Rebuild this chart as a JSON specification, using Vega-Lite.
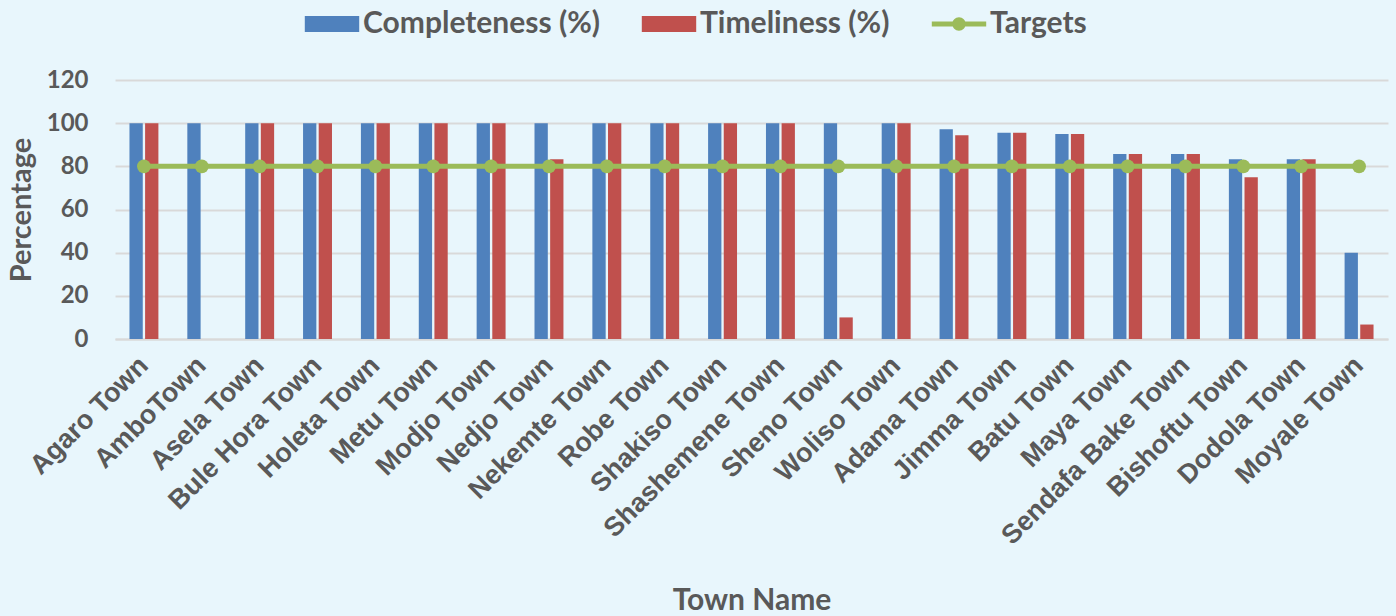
{
  "$schema": "https://vega.github.io/schema/vega-lite/v6.json",
  "width": 1273,
  "height": 259,
  "autosize": "none",
  "padding": {"left": 115, "top": 80, "right": 8, "bottom": 277},
  "background": "#E8F6FC",
  "config": {
    "view": {"stroke": null},
    "font": "Lato",
    "axis": {"labelColor": "#595959", "titleColor": "#595959", "labelFontWeight": "bold", "titleFontWeight": "bold", "gridColor": "#D9D9D9", "gridWidth": 2, "domainColor": "#D9D9D9", "domainWidth": 2, "ticks": false}
  },
  "data": {"values": [
    {"town": "Agaro Town", "Completeness (%)": 100, "Timeliness (%)": 100, "target": 80},
    {"town": "AmboTown", "Completeness (%)": 100, "Timeliness (%)": 0, "target": 80},
    {"town": "Asela Town", "Completeness (%)": 100, "Timeliness (%)": 100, "target": 80},
    {"town": "Bule Hora Town", "Completeness (%)": 100, "Timeliness (%)": 100, "target": 80},
    {"town": "Holeta Town", "Completeness (%)": 100, "Timeliness (%)": 100, "target": 80},
    {"town": "Metu Town", "Completeness (%)": 100, "Timeliness (%)": 100, "target": 80},
    {"town": "Modjo Town", "Completeness (%)": 100, "Timeliness (%)": 100, "target": 80},
    {"town": "Nedjo Town", "Completeness (%)": 100, "Timeliness (%)": 83.3, "target": 80},
    {"town": "Nekemte Town", "Completeness (%)": 100, "Timeliness (%)": 100, "target": 80},
    {"town": "Robe Town", "Completeness (%)": 100, "Timeliness (%)": 100, "target": 80},
    {"town": "Shakiso Town", "Completeness (%)": 100, "Timeliness (%)": 100, "target": 80},
    {"town": "Shashemene Town", "Completeness (%)": 100, "Timeliness (%)": 100, "target": 80},
    {"town": "Sheno Town", "Completeness (%)": 100, "Timeliness (%)": 10, "target": 80},
    {"town": "Woliso Town", "Completeness (%)": 100, "Timeliness (%)": 100, "target": 80},
    {"town": "Adama Town", "Completeness (%)": 97.2, "Timeliness (%)": 94.4, "target": 80},
    {"town": "Jimma Town", "Completeness (%)": 95.6, "Timeliness (%)": 95.6, "target": 80},
    {"town": "Batu Town", "Completeness (%)": 95, "Timeliness (%)": 95, "target": 80},
    {"town": "Maya Town", "Completeness (%)": 85.7, "Timeliness (%)": 85.7, "target": 80},
    {"town": "Sendafa Bake Town", "Completeness (%)": 85.7, "Timeliness (%)": 85.7, "target": 80},
    {"town": "Bishoftu Town", "Completeness (%)": 83.3, "Timeliness (%)": 75, "target": 80},
    {"town": "Dodola Town", "Completeness (%)": 83.3, "Timeliness (%)": 83.3, "target": 80},
    {"town": "Moyale Town", "Completeness (%)": 40, "Timeliness (%)": 6.7, "target": 80}
  ]},
  "encoding": {
    "x": {
      "field": "town", "type": "nominal", "sort": null,
      "scale": {"paddingInner": 0.5, "paddingOuter": 0.25},
      "axis": {"title": "Town Name", "labelAngle": -45, "labelAlign": "right", "labelBaseline": "middle", "labelFont": "Liberation Sans", "labelFontSize": 27, "labelPadding": 22, "titleFontSize": 30, "titleY": 261, "titleBaseline": "middle", "grid": false, "labelLimit": 400}
    }
  },
  "layer": [
    {
      "transform": [{"fold": ["Completeness (%)", "Timeliness (%)"], "as": ["series", "value"]}],
      "mark": {"type": "bar"},
      "encoding": {
        "xOffset": {"field": "series", "type": "nominal", "scale": {"paddingInner": 0.15}},
        "y": {"field": "value", "type": "quantitative", "scale": {"domain": [0, 120]},
          "axis": {"title": "Percentage", "values": [0, 20, 40, 60, 80, 100, 120], "labelFontSize": 24, "labelPadding": 27, "titleFontSize": 29, "titlePadding": 10, "domain": false}},
        "color": {"field": "series", "type": "nominal",
          "scale": {"domain": ["Completeness (%)", "Timeliness (%)", "Targets"], "range": ["#4F81BD", "#C0504D", "#9BBB59"]},
          "legend": {
            "title": null, "orient": "none", "direction": "horizontal", "legendX": 190, "legendY": -72,
            "labelFontSize": 30, "labelFontWeight": "bold", "labelColor": "#595959", "labelOffset": 26,
            "symbolSize": 256, "columnPadding": 41, "labelLimit": 400,
            "encode": {"symbols": {"update": {
              "shape": {"signal": "datum.value === 'Targets' ? 'M-1.7,-0.16H1.7V0.16H-1.7Z M-0.42,0A0.42,0.42,0,1,1,0.42,0A0.42,0.42,0,1,1,-0.42,0Z' : 'M-1.7,-0.5H1.7V0.5H-1.7Z'"},
              "size": {"value": 1024},
              "fill": {"signal": "scale('color', datum.value)"},
              "stroke": {"value": "transparent"},
              "strokeWidth": {"value": 0},
              "opacity": {"value": 1},
              "xc": {"value": 27}
            }}}
          }
        }
      }
    },
    {
      "mark": {"type": "line", "strokeWidth": 5, "point": {"filled": true, "size": 190, "color": "#9BBB59"}},
      "encoding": {
        "y": {"field": "target", "type": "quantitative"},
        "color": {"datum": "Targets"}
      }
    }
  ]
}
